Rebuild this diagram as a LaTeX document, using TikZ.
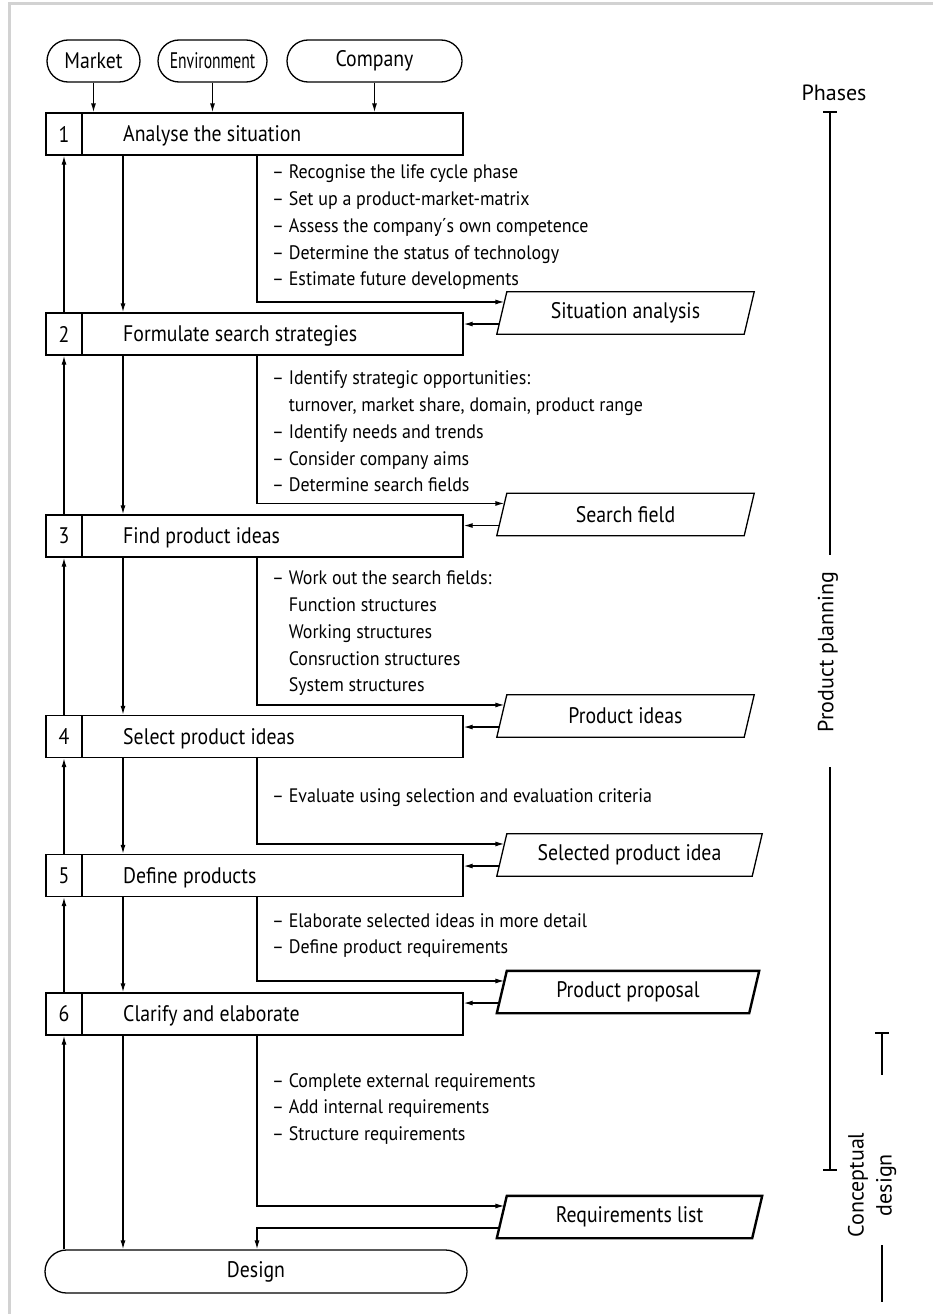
\documentclass[tikz,border=0pt]{standalone}
\usepackage{fontspec}
\setmainfont{PT Sans}[FakeStretch=0.88]
\newfontfamily\descfont{PT Sans}[FakeStretch=0.92]
\newfontfamily\phasefont{PT Sans}
\usetikzlibrary{arrows.meta,shapes.misc,calc}

\begin{document}
\begin{tikzpicture}[x=1pt,y=-1pt,
  stroke/.style={line width=1.3pt},
  thickline/.style={line width=2.4pt},
  arr/.style={stroke,-{Latex[length=9pt,width=5pt]}},
  stepbox/.style={draw,stroke,minimum width=417pt,minimum height=42pt,inner sep=0pt},
  numcell/.style={draw,stroke,minimum width=36pt,minimum height=42pt,inner sep=0pt,
    font=\fontsize{22.5}{27}\selectfont},
  lbl/.style={font=\fontsize{22.5}{27}\selectfont,inner sep=0pt},
  phase/.style={font=\phasefont\fontsize{22}{28}\selectfont,inner sep=0pt},
  desc/.style={font=\descfont\fontsize{19.5}{26.7}\selectfont,align=left,inner sep=0pt,anchor=north west},
  source/.style={draw,stroke,rounded rectangle,minimum height=42pt,inner sep=0pt,
    font=\fontsize{22.5}{27}\selectfont},
  doc/.style={minimum height=42pt,inner sep=0pt,font=\fontsize{22.5}{27}\selectfont},
]
\useasboundingbox (0,0) rectangle (933,1314);
\fill[white] (0,0) rectangle (933,1314);
% page frame
\draw[gray!35,line width=3pt] (9,1314) -- (9,4) -- (933,4);

% fixed x positions of the vertical connectors
\coordinate (upx) at (64,0);
\coordinate (dnx) at (123,0);
\coordinate (brx) at (257,0);

% sources
\node[source,minimum width=93pt]  (market)  at (93.5,61) {Market};
\node[source,minimum width=109pt] (environ) at (212.5,61) {\scalebox{0.79}[1]{Environment}};
\node[source,minimum width=175pt] (company) at (374.5,61) {Company};

% steps
\foreach \n/\y/\t in {1/134/Analyse the situation,
                      2/334/Formulate search strategies,
                      3/536/Find product ideas,
                      4/736.5/Select product ideas,
                      5/875.5/Define products,
                      6/1014/Clarify and elaborate}{
  \node[stepbox] (b\n) at (254.5,\y) {};
  \node[numcell,anchor=west] (n\n) at (b\n.west) {\n};
  \node[lbl,anchor=base west] (t\n) at (123,\y+7.9) {\t};
}

% result
\node[source,minimum width=422pt,minimum height=43pt] (design) at (256,1271.5) {Design};

% documents
\foreach \n/\x/\y/\w/\t/\s in {1/625.5/313/247/Situation analysis/stroke,
                               2/625.5/514.5/247/Search field/stroke,
                               3/625.5/716/247/Product ideas/stroke,
                               4/629.5/855/255/Selected product idea/stroke,
                               5/628/992/252/Product proposal/thickline,
                               6/629.5/1217/255/Requirements list/thickline}{
  \node[doc,minimum width=\w pt] (p\n) at (\x,\y) {\t};
  \draw[\s,line join=miter] ([xshift=5pt]p\n.north west) -- ([xshift=5pt]p\n.north east)
     -- ([xshift=-5pt]p\n.south east) -- ([xshift=-5pt]p\n.south west) -- cycle;
  \coordinate (p\n-in)  at ($([xshift=5pt]p\n.north west)!0.24!([xshift=-5pt]p\n.south west)$);
  \coordinate (p\n-out) at ($([xshift=5pt]p\n.north west)!0.76!([xshift=-5pt]p\n.south west)$);
}

% descriptions
\node[desc] (d1) at (272,160.1) {\strut– Recognise the life cycle phase\\
  – Set up a product-market-matrix\\
  – Assess the company´s own competence\\
  – Determine the status of technology\\
  – Estimate future developments};
\node[desc] (d2) at (272,366.1) {\strut– Identify strategic opportunities:\\
  \phantom{– }turnover, market share, domain, product range\\
  – Identify needs and trends\\
  – Consider company aims\\
  – Determine search fields};
\node[desc] (d3) at (272,566.1) {\strut– Work out the search fields:\\
  \phantom{– }Function structures\\
  \phantom{– }Working structures\\
  \phantom{– }Consruction structures\\
  \phantom{– }System structures};
\node[desc] (d4) at (272,784.1) {\strut– Evaluate using selection and evaluation criteria};
\node[desc] (d5) at (272,908.1) {\strut– Elaborate selected ideas in more detail\\
  – Define product requirements};
\node[desc] (d6) at (272,1068.1) {\strut– Complete external requirements\\
  – Add internal requirements\\
  – Structure requirements};

% inputs into the first step
\draw[arr] (market.south)  -- (market.south |- b1.north);
\draw[arr] (environ.south) -- (environ.south |- b1.north);
\draw[arr] (company.south) -- (company.south |- b1.north);

% feedback and forward arrows between steps
\foreach \n/\m in {1/2,2/3,3/4,4/5,5/6}{
  \draw[arr] (b\m.north -| upx) -- (b\n.south -| upx);
  \draw[arr] (b\n.south -| dnx) -- (b\m.north -| dnx);
}
\draw[arr] (design.north -| upx) -- (b6.south -| upx);
\draw[arr] (b6.south -| dnx) -- (design.north -| dnx);

% results of each step and their return into the next one
\foreach \n/\m in {1/2,2/3,3/4,4/5,5/6}{
  \draw[arr] (b\n.south -| brx) |- (p\n-in);
  \draw[arr] (p\n-out) -- (p\n-out -| b\m.east);
}
\draw[arr] (b6.south -| brx) |- (p6-in);
\draw[arr] (p6-out) -| (design.north -| brx);

% phases scale
\node[phase] (phases) at (834,93) {Phases};
\draw[stroke] (823,112) -- (837,112);
\draw[stroke] (830,112) -- (830,555);
\node[phase,rotate=90] (planning) at (828,652) {Product planning};
\draw[stroke] (830,767) -- (830,1170);
\draw[stroke] (823,1170) -- (837,1170);
\draw[stroke] (875,1033) -- (889,1033);
\draw[stroke] (882,1033) -- (882,1075);
\node[phase,rotate=90,align=center] (concept) at (872,1185) {Conceptual\\design};
\draw[stroke] (882,1245) -- (882,1302);
\end{tikzpicture}
\end{document}
